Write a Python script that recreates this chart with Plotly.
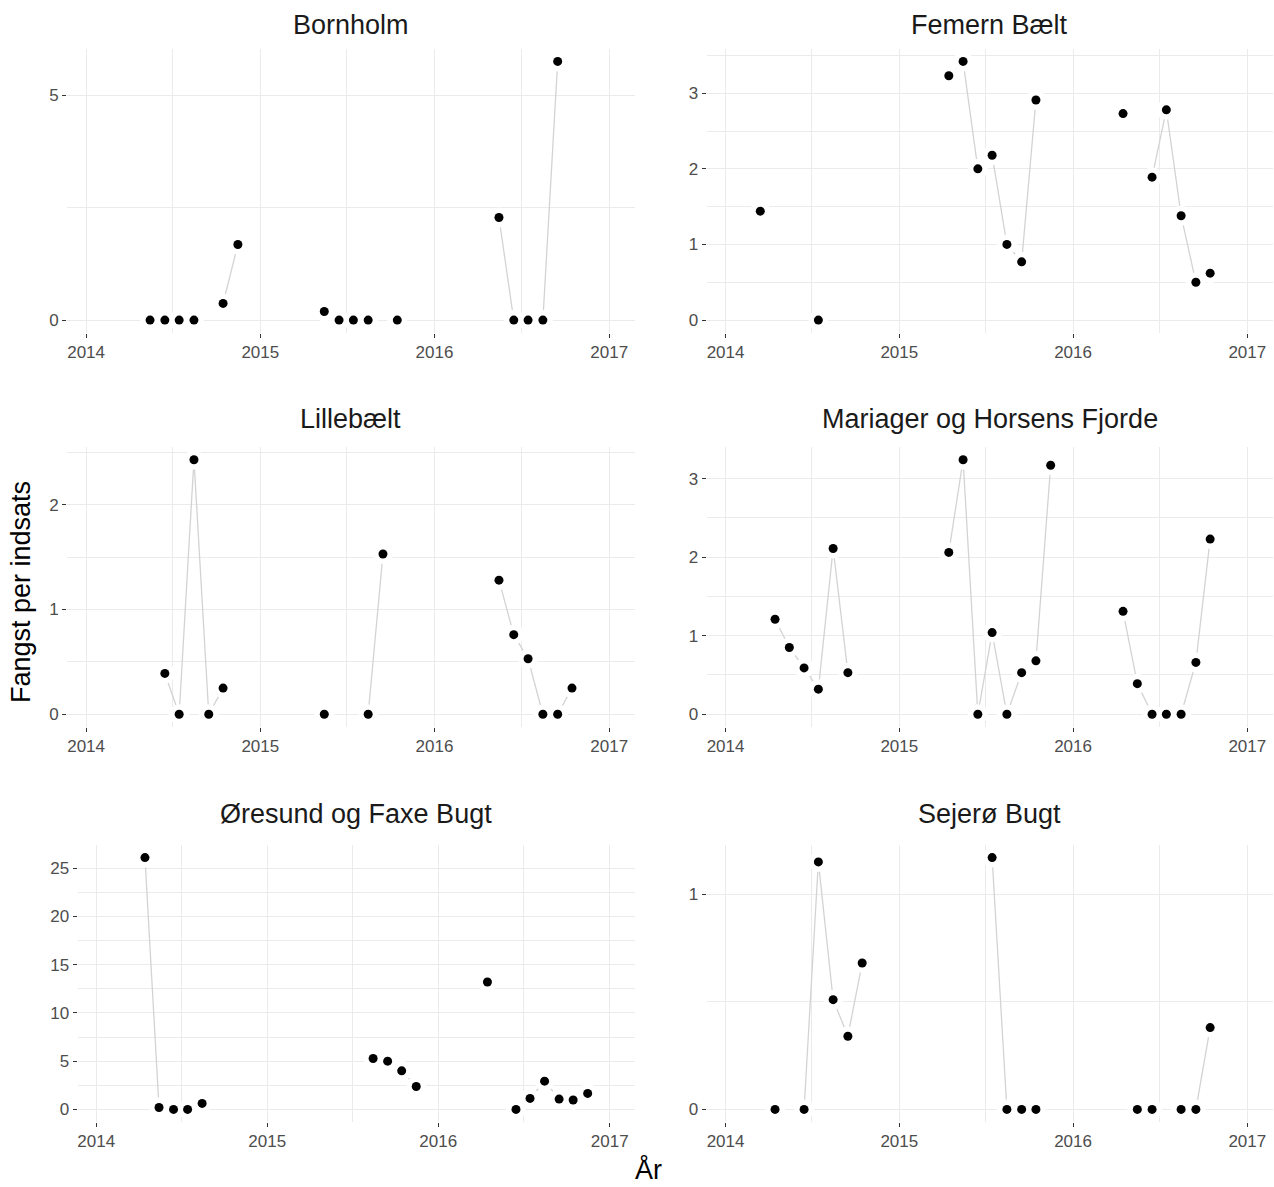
import plotly.graph_objects as go
from plotly.subplots import make_subplots
import pandas as pd

# facet titles in plotting order (row by row)
areas = ["Bornholm", "Femern Bælt", "Lillebælt",
         "Mariager og Horsens Fjorde", "Øresund og Faxe Bugt", "Sejerø Bugt"]

bornholm_months = ["2014-05", "2014-06", "2014-07", "2014-08", "2014-10", "2014-11",
                   "2015-05", "2015-06", "2015-07", "2015-08", "2015-10",
                   "2016-05", "2016-06", "2016-07", "2016-08", "2016-09"]
bornholm_values = [0, 0, 0, 0, 0.37, 1.68,
                   0.19, 0, 0, 0, 0,
                   2.28, 0, 0, 0, 5.75]

femern_months = ["2014-03", "2014-07",
                 "2015-04", "2015-05", "2015-06", "2015-07", "2015-08", "2015-09", "2015-10",
                 "2016-04", "2016-06", "2016-07", "2016-08", "2016-09", "2016-10"]
femern_values = [1.44, 0,
                 3.23, 3.42, 2.00, 2.18, 1.00, 0.77, 2.91,
                 2.73, 1.89, 2.78, 1.38, 0.50, 0.62]

lillebaelt_months = ["2014-06", "2014-07", "2014-08", "2014-09", "2014-10",
                     "2015-05", "2015-08", "2015-09",
                     "2016-05", "2016-06", "2016-07", "2016-08", "2016-09", "2016-10"]
lillebaelt_values = [0.39, 0, 2.43, 0, 0.25,
                     0, 0, 1.53,
                     1.28, 0.76, 0.53, 0, 0, 0.25]

mariager_months = ["2014-04", "2014-05", "2014-06", "2014-07", "2014-08", "2014-09",
                   "2015-04", "2015-05", "2015-06", "2015-07", "2015-08", "2015-09", "2015-10", "2015-11",
                   "2016-04", "2016-05", "2016-06", "2016-07", "2016-08", "2016-09", "2016-10"]
mariager_values = [1.21, 0.85, 0.59, 0.32, 2.11, 0.53,
                   2.06, 3.24, 0, 1.04, 0, 0.53, 0.68, 3.17,
                   1.31, 0.39, 0, 0, 0, 0.66, 2.23]

oresund_months = ["2014-04", "2014-05", "2014-06", "2014-07", "2014-08",
                  "2015-08", "2015-09", "2015-10", "2015-11",
                  "2016-04", "2016-06", "2016-07", "2016-08", "2016-09", "2016-10", "2016-11"]
oresund_values = [26.1, 0.2, 0, 0, 0.62,
                  5.28, 5.0, 4.0, 2.38,
                  13.2, 0, 1.14, 2.93, 1.07, 0.97, 1.66]

sejero_months = ["2014-04", "2014-06", "2014-07", "2014-08", "2014-09", "2014-10",
                 "2015-07", "2015-08", "2015-09", "2015-10",
                 "2016-05", "2016-06", "2016-08", "2016-09", "2016-10"]
sejero_values = [0, 0, 1.15, 0.51, 0.34, 0.68,
                 1.17, 0, 0, 0,
                 0, 0, 0, 0, 0.38]

series = [(bornholm_months, bornholm_values), (femern_months, femern_values),
          (lillebaelt_months, lillebaelt_values), (mariager_months, mariager_values),
          (oresund_months, oresund_values), (sejero_months, sejero_values)]
y_dticks = [5, 1, 1, 1, 5, 1]

W, H = 1274, 1187
FONT = "Liberation Sans, Arial, sans-serif"
GRID = "#EBEBEB"


def mid_month(months):
    return [m + "-15" for m in months]


def with_gaps(months, values):
    """Full monthly sequence; months without data become None so the line breaks."""
    lookup = dict(zip(months, values))
    full = pd.period_range(months[0], months[-1], freq="M").strftime("%Y-%m").tolist()
    return mid_month(full), [lookup.get(m) for m in full]


fig = make_subplots(rows=3, cols=2)

# panel boxes in pixels
col_px = {1: (67, 635), 2: (706.5, 1273)}
row_px = {1: (48.5, 333), 2: (447, 727), 3: (845, 1122)}
title_y = {1: 25, 2: 418.5, 3: 814.5}

for i, (area, (months, values)) in enumerate(zip(areas, series)):
    r, c = i // 2 + 1, i % 2 + 1
    lx, rx = col_px[c]
    if area.startswith("Øresund"):
        lx = 77.5
    ty, by = row_px[r]

    gx, gy = with_gaps(months, values)
    fig.add_trace(go.Scatter(x=gx, y=gy, mode="lines", connectgaps=False,
                             line=dict(color="#D3D3D3", width=1.3),
                             hoverinfo="skip", showlegend=False), row=r, col=c)
    # white halo under each point (hides line ends and grid near the points)
    fig.add_trace(go.Scatter(x=mid_month(months), y=values, mode="markers",
                             marker=dict(color="white", size=20, line=dict(width=0)),
                             hoverinfo="skip", showlegend=False), row=r, col=c)
    fig.add_trace(go.Scatter(x=mid_month(months), y=values, mode="markers",
                             marker=dict(color="black", size=9, line=dict(width=0)),
                             name=area, showlegend=False), row=r, col=c)

    lo, hi = min(values), max(values)
    pad = (hi - lo) * 0.05
    fig.update_yaxes(domain=[1 - by / H, 1 - ty / H], range=[lo - pad, hi + pad],
                     dtick=y_dticks[i], tick0=0,
                     minor=dict(dtick=y_dticks[i] / 2, tick0=0, showgrid=True,
                                gridcolor=GRID, gridwidth=0.8),
                     row=r, col=c)
    fig.update_xaxes(domain=[lx / W, rx / W], row=r, col=c)

    fig.add_annotation(text=area, x=(lx + rx) / 2 / W, y=1 - title_y[r] / H,
                       xref="paper", yref="paper", xanchor="center", yanchor="middle",
                       showarrow=False, font=dict(family=FONT, size=27, color="#1A1A1A"))

fig.update_xaxes(type="date", range=["2013-11-22", "2017-02-24"],
                 tick0="2014-01-01", dtick="M12", tickformat="%Y",
                 minor=dict(tick0="2014-07-01", dtick="M12", showgrid=True,
                            gridcolor=GRID, gridwidth=0.8),
                 showgrid=True, gridcolor=GRID, gridwidth=1.4, zeroline=False, showline=False,
                 ticks="outside", ticklen=4, tickwidth=1.3, tickcolor="#333333",
                 tickfont=dict(family=FONT, size=17, color="#4D4D4D"))
fig.update_yaxes(showgrid=True, gridcolor=GRID, gridwidth=1.4, zeroline=False, showline=False,
                 ticks="outside", ticklen=4, tickwidth=1.3, tickcolor="#333333",
                 tickfont=dict(family=FONT, size=17, color="#4D4D4D"))

# shared axis titles
fig.add_annotation(text="År", x=648 / W, y=0, xref="paper", yref="paper",
                   xanchor="center", yanchor="bottom", showarrow=False,
                   font=dict(family=FONT, size=27, color="black"))
fig.add_annotation(text="Fangst per indsats", x=21 / W, y=1 - 592 / H, xref="paper", yref="paper",
                   xanchor="center", yanchor="middle", textangle=-90, showarrow=False,
                   font=dict(family=FONT, size=27, color="black"))

fig.update_layout(width=W, height=H, margin=dict(l=0, r=0, t=0, b=0),
                  plot_bgcolor="white", paper_bgcolor="white",
                  font=dict(family=FONT), showlegend=False)

fig.write_html("out.html", config={"displayModeBar": False},
               post_script="document.body.style.margin='0px';")
